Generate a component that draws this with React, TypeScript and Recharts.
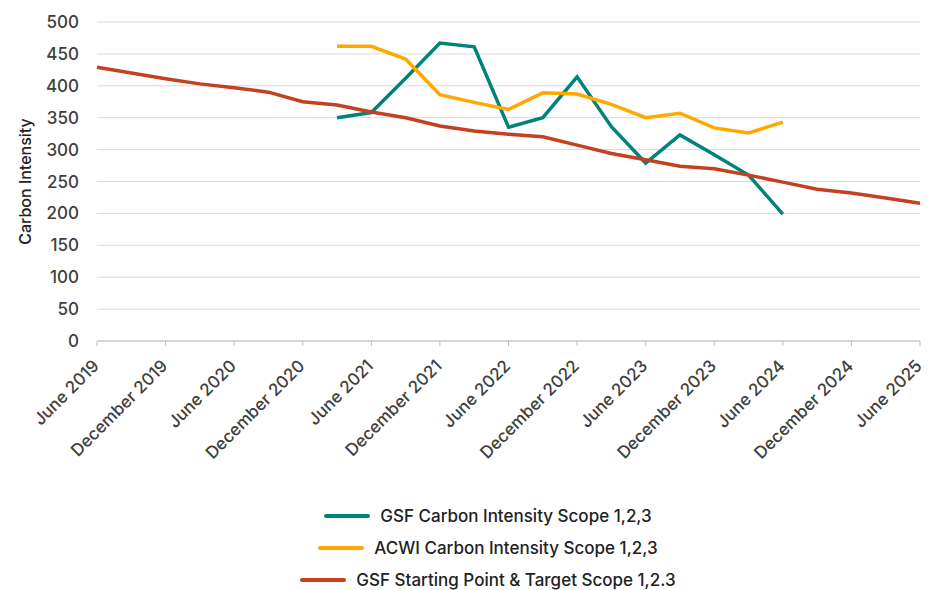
import { CartesianGrid, Line, LineChart, XAxis, YAxis } from "recharts";

// Quarterly periods, June 2019 – June 2025 (every second one is labelled).
const periods = [
  "June 2019", "September 2019", "December 2019", "March 2020",
  "June 2020", "September 2020", "December 2020", "March 2021",
  "June 2021", "September 2021", "December 2021", "March 2022",
  "June 2022", "September 2022", "December 2022", "March 2023",
  "June 2023", "September 2023", "December 2023", "March 2024",
  "June 2024", "September 2024", "December 2024", "March 2025",
  "June 2025",
];

const gsf: (number | null)[] = [
  null, null, null, null, null, null, null, 350,
  358, 412, 467, 461, 335, 350, 414, 336,
  279, 323, 292, 260, 199, null, null, null, null,
];

const acwi: (number | null)[] = [
  null, null, null, null, null, null, null, 462,
  462, 442, 386, 374, 363, 389, 387, 371,
  350, 357, 334, 326, 343, null, null, null, null,
];

const target = [
  429, 420, 411, 403, 397, 390, 375, 370,
  359, 350, 337, 329, 324, 320, 307, 294,
  284, 274, 270, 260, 249, 238, 232, 224, 216,
];

const yTicks = [0, 50, 100, 150, 200, 250, 300, 350, 400, 450, 500];

const COLORS = { gsf: "#00847a", acwi: "#ffa800", target: "#c4401f" };
const FONT = "Inter, 'Liberation Sans', sans-serif";

const data = periods.map((period, i) => ({
  period,
  gsf: gsf[i],
  acwi: acwi[i],
  target: target[i],
}));

const legendItems = [
  { label: "GSF Carbon Intensity Scope 1,2,3", color: COLORS.gsf },
  { label: "ACWI Carbon Intensity Scope 1,2,3", color: COLORS.acwi },
  { label: "GSF Starting Point & Target Scope 1,2.3", color: COLORS.target },
];

function RotatedTick({ x, y, payload }: { x?: number; y?: number; payload?: { value: string } }) {
  const tx = (x ?? 0) + 3;
  const ty = (y ?? 0) + 19;
  return (
    <text
      x={tx}
      y={ty}
      transform={`rotate(-45 ${tx} ${ty})`}
      textAnchor="end"
      fill="#404040"
      fontSize={17}
      fontWeight={500}
      fontFamily={FONT}
    >
      {payload?.value}
    </text>
  );
}

export default function App() {
  return (
    <div style={{ position: "absolute", left: 0, top: 0, width: 928, height: 590, background: "#fff", overflow: "hidden" }}>
      <LineChart width={928} height={480} data={data} margin={{ top: 22, right: 8, bottom: 0, left: 0 }}>
        <CartesianGrid vertical={false} stroke="#d9d9d9" strokeWidth={1} />
        <XAxis
          dataKey="period"
          interval={1}
          tick={<RotatedTick />}
          tickSize={5}
          axisLine={{ stroke: "#bfbfbf" }}
          tickLine={{ stroke: "#bfbfbf" }}
          height={139}
        />
        <YAxis
          domain={[0, 500]}
          ticks={yTicks}
          width={97}
          axisLine={false}
          tickLine={false}
          tickMargin={12}
          tick={{ fill: "#404040", fontSize: 17, fontWeight: 500, fontFamily: FONT }}
          label={{
            value: "Carbon Intensity",
            angle: -90,
            position: "insideLeft",
            offset: 25,
            style: { fill: "#222", fontSize: 16, fontWeight: 500, fontFamily: FONT, textAnchor: "middle" },
          }}
        />
        <Line
          dataKey="gsf"
          stroke={COLORS.gsf}
          strokeWidth={3.5}
          dot={false}
          activeDot={false}
          type="linear"
          isAnimationActive={false}
        />
        <Line
          dataKey="acwi"
          stroke={COLORS.acwi}
          strokeWidth={3.5}
          dot={false}
          activeDot={false}
          type="linear"
          isAnimationActive={false}
        />
        <Line
          dataKey="target"
          stroke={COLORS.target}
          strokeWidth={3.5}
          dot={false}
          activeDot={false}
          type="linear"
          isAnimationActive={false}
        />
      </LineChart>
      <div
        style={{
          position: "absolute",
          left: 48,
          top: 504,
          width: 880,
          display: "flex",
          flexDirection: "column",
          alignItems: "center",
          gap: 8,
          fontFamily: FONT,
          fontSize: 17,
          fontWeight: 500,
          color: "#222",
        }}
      >
        {legendItems.map((item) => (
          <div key={item.label} style={{ display: "flex", alignItems: "center", height: 24 }}>
            <span style={{ width: 46, height: 4, borderRadius: 2, background: item.color, marginRight: 10 }} />
            {item.label}
          </div>
        ))}
      </div>
    </div>
  );
}
